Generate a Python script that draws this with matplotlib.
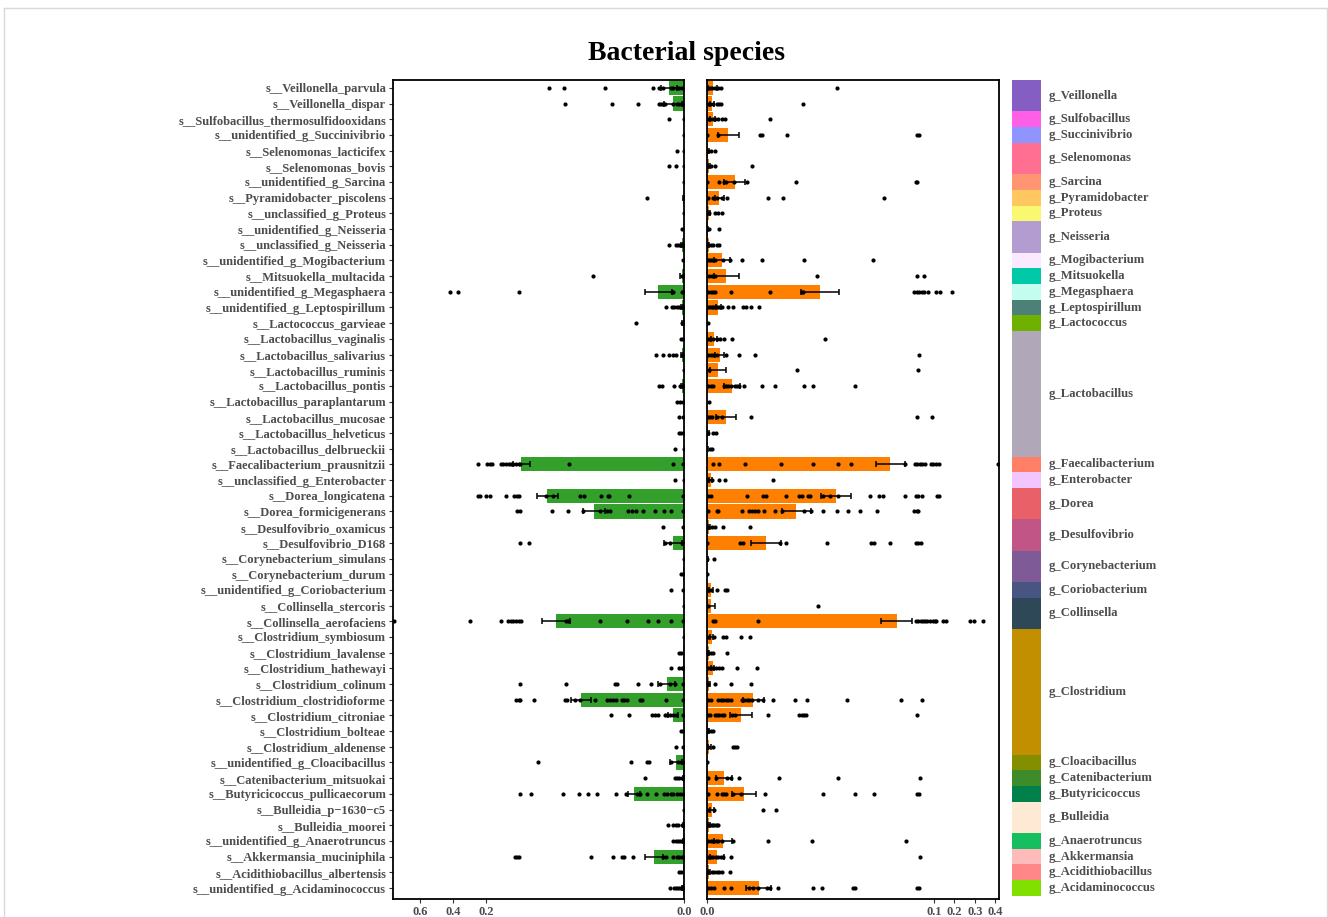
import numpy as np
import matplotlib
matplotlib.use("Agg")
import matplotlib.pyplot as plt
from matplotlib.lines import Line2D

plt.rcParams['font.family'] = ['Liberation Serif', 'DejaVu Serif']
plt.rcParams['font.weight'] = 'bold'

# ===================== DADOS =====================
especies = [
    "s__Veillonella_parvula", "s__Veillonella_dispar", "s__Sulfobacillus_thermosulfidooxidans",
    "s__unidentified_g_Succinivibrio", "s__Selenomonas_lacticifex", "s__Selenomonas_bovis",
    "s__unidentified_g_Sarcina", "s__Pyramidobacter_piscolens", "s__unclassified_g_Proteus",
    "s__unidentified_g_Neisseria", "s__unclassified_g_Neisseria", "s__unidentified_g_Mogibacterium",
    "s__Mitsuokella_multacida", "s__unidentified_g_Megasphaera", "s__unidentified_g_Leptospirillum",
    "s__Lactococcus_garvieae", "s__Lactobacillus_vaginalis", "s__Lactobacillus_salivarius",
    "s__Lactobacillus_ruminis", "s__Lactobacillus_pontis", "s__Lactobacillus_paraplantarum",
    "s__Lactobacillus_mucosae", "s__Lactobacillus_helveticus", "s__Lactobacillus_delbrueckii",
    "s__Faecalibacterium_prausnitzii", "s__unclassified_g_Enterobacter", "s__Dorea_longicatena",
    "s__Dorea_formicigenerans", "s__Desulfovibrio_oxamicus", "s__Desulfovibrio_D168",
    "s__Corynebacterium_simulans", "s__Corynebacterium_durum", "s__unidentified_g_Coriobacterium",
    "s__Collinsella_stercoris", "s__Collinsella_aerofaciens", "s__Clostridium_symbiosum",
    "s__Clostridium_lavalense", "s__Clostridium_hathewayi", "s__Clostridium_colinum",
    "s__Clostridium_clostridioforme", "s__Clostridium_citroniae", "s__Clostridium_bolteae",
    "s__Clostridium_aldenense", "s__unidentified_g_Cloacibacillus", "s__Catenibacterium_mitsuokai",
    "s__Butyricicoccus_pullicaecorum", "s__Bulleidia_p\u22121630\u2212c5", "s__Bulleidia_moorei",
    "s__unidentified_g_Anaerotruncus", "s__Akkermansia_muciniphila", "s__Acidithiobacillus_albertensis",
    "s__unidentified_g_Acidaminococcus",
]

generos = ["g_Veillonella", "g_Sulfobacillus", "g_Succinivibrio", "g_Selenomonas", "g_Sarcina",
           "g_Pyramidobacter", "g_Proteus", "g_Neisseria", "g_Mogibacterium", "g_Mitsuokella",
           "g_Megasphaera", "g_Leptospirillum", "g_Lactococcus", "g_Lactobacillus", "g_Faecalibacterium",
           "g_Enterobacter", "g_Dorea", "g_Desulfovibrio", "g_Corynebacterium", "g_Coriobacterium",
           "g_Collinsella", "g_Clostridium", "g_Cloacibacillus", "g_Catenibacterium", "g_Butyricicoccus",
           "g_Bulleidia", "g_Anaerotruncus", "g_Akkermansia", "g_Acidithiobacillus", "g_Acidaminococcus"]
n_especies_genero = [2, 1, 1, 2, 1, 1, 1, 2, 1, 1, 1, 1, 1, 8, 1, 1, 2, 2, 2, 1, 2, 8, 1, 1, 1, 2, 1, 1, 1, 1]
cores_genero = ["#845EC2", "#FF5EE6", "#8F94FF", "#FF6F91", "#FF9671", "#FFC75F", "#F9F871", "#B39CD0",
                "#FBEAFF", "#00C9A7", "#C4FCEF", "#4D8076", "#6FB100", "#B0A8B9", "#FF8066", "#F3C5FF",
                "#EA6069", "#C15585", "#7E5A96", "#485481", "#2F4858", "#C18F00", "#848F00", "#3E8B2A",
                "#00804A", "#FEE9D4", "#16BE5F", "#FFBBBB", "#FF8787", "#82E000"]

media_esq = [0.0155, 0.011, 0.0005, 0.0002, 0.0003, 0.0005, 0.0002, 0.0008, 0.0002, 0.0005,
             0.002, 0.0005, 0.0022, 0.026, 0.002, 0.001, 0.0005, 0.002, 0.0002, 0.0018,
             0.0005, 0.0005, 0.0005, 0.0005, 0.1643, 0.0004, 0.138, 0.0906, 0.0006, 0.011,
             0.0002, 0.0008, 0.0005, 0.0002, 0.1293, 0.0002, 0.0008, 0.0008, 0.0175, 0.1044,
             0.011, 0.0005, 0.0004, 0.0084, 0.001, 0.0505, 0.0002, 0.001, 0.0008, 0.0303,
             0.0006, 0.0013]
erro_esq = [0.008, 0.009, 0, 0, 0, 0, 0, 0.0005, 0, 0,
            0.001, 0, 0.002, 0.0135, 0.001, 0.0015, 0, 0.001, 0, 0.001,
            0, 0, 0, 0, 0.009, 0, 0.0105, 0.011, 0, 0.009,
            0, 0, 0, 0, 0.014, 0, 0, 0, 0.0085, 0.01,
            0.005, 0, 0, 0.006, 0.0005, 0.0065, 0, 0.0005, 0.0005, 0.0095,
            0, 0.0005]
pontos_esq = [
    [0.1364, 0.1212, 0.0795, 0.031, 0.0256, 0.0215, 0.0135, 0.0108, 0.0074, 0.0047, 0.002],
    [0.1199, 0.0727, 0.0461, 0.0249, 0.0229, 0.0209, 0.0189, 0.0108, 0.0074, 0.0047, 0.0024],
    [0.0152, 0.0003],
    [0.0003],
    [0.0067, 0.0003],
    [0.0152, 0.0077, 0.0003],
    [0.0003],
    [0.037, 0.0003],
    [0.0003],
    [0.002],
    [0.0148, 0.0081, 0.0057, 0.004, 0.0024, 0.0007],
    [0.001],
    [0.0923, 0.0024, 0.0007],
    [0.4182, 0.3717, 0.1663, 0.0125, 0.0108, 0.0024, 0.0007],
    [0.0185, 0.0125, 0.0101, 0.0074, 0.0047, 0.0024, 0.0007],
    [0.0488, 0.002, 0.0007],
    [0.003, 0.0013],
    [0.0283, 0.0215, 0.0155, 0.0108, 0.0081, 0.0024],
    [0.0003],
    [0.0256, 0.0226, 0.0101, 0.004, 0.0007],
    [0.0067, 0.004, 0.0013],
    [0.0051, 0.0007],
    [0.0047, 0.003, 0.0003],
    [0.0091, 0.0003],
    [0.2505, 0.1987, 0.1966, 0.1943, 0.1852, 0.1825, 0.1798, 0.1774, 0.1751, 0.1724, 0.1697,
     0.1673, 0.1657, 0.1165, 0.0114, 0.0013],
    [0.0088, 0.0003],
    [0.2505, 0.2364, 0.202, 0.196, 0.1798, 0.1714, 0.169, 0.1663, 0.1397, 0.132, 0.1051, 0.101,
     0.0842, 0.0764, 0.0754, 0.0559, 0.0013],
    [0.1684, 0.1657, 0.1333, 0.1168, 0.1017, 0.0848, 0.0781, 0.0747, 0.0562, 0.0529, 0.0485,
     0.0418, 0.029, 0.0205, 0.0131, 0.0007],
    [0.0209, 0.0013],
    [0.166, 0.1569, 0.0192, 0.0141, 0.0024],
    [0.0003],
    [0.0034, 0.0013],
    [0.0131, 0.0013],
    [0.0003],
    [0.7616, 0.297, 0.1845, 0.1781, 0.1751, 0.1724, 0.1697, 0.167, 0.165, 0.1192, 0.1168, 0.0848,
     0.0576, 0.036, 0.0263, 0.0131, 0.0007],
    [0.0003],
    [0.0051, 0.003],
    [0.0135, 0.0047, 0.0024, 0.0007],
    [0.166, 0.1192, 0.0694, 0.0673, 0.0461, 0.0337, 0.0242, 0.0141, 0.0088, 0.0007],
    [0.1697, 0.1673, 0.1657, 0.1512, 0.1199, 0.1185, 0.1101, 0.1051, 0.0896, 0.0781, 0.0747,
     0.0721, 0.0687, 0.063, 0.0603, 0.0576, 0.0444, 0.0421, 0.0182, 0.0007],
    [0.0734, 0.0559, 0.032, 0.0293, 0.0266, 0.0189, 0.0168, 0.0141, 0.0108, 0.0081, 0.0013],
    [0.003, 0.0013],
    [0.0081, 0.0007],
    [0.1475, 0.0532, 0.0377, 0.0357, 0.0135, 0.0057, 0.0034, 0.0007],
    [0.0391, 0.0088, 0.0067, 0.0047, 0.002],
    [0.166, 0.1542, 0.1226, 0.1064, 0.0966, 0.0882, 0.0687, 0.0586, 0.0478, 0.0444, 0.0377,
     0.0283, 0.0202, 0.0168, 0.0135, 0.0108, 0.0074, 0.004, 0.0013],
    [0.0003],
    [0.0165, 0.0108, 0.0081, 0.0057, 0.002],
    [0.0108, 0.0081, 0.0057, 0.004, 0.002, 0.0007],
    [0.1707, 0.169, 0.167, 0.0936, 0.0721, 0.063, 0.0603, 0.0515, 0.0215, 0.0182, 0.0108,
     0.0074, 0.0051, 0.0024, 0.0007],
    [0.0054, 0.003],
    [0.0138, 0.0101, 0.0081, 0.0057, 0.004, 0.002, 0.0007],
]

media_dir = [0.0025, 0.0022, 0.0025, 0.0094, 0.0005, 0.001, 0.0123, 0.0054, 0.0008, 0.0003,
             0.0007, 0.0065, 0.0084, 0.0498, 0.005, 0.0002, 0.0031, 0.0057, 0.0047, 0.0112,
             0.0002, 0.0084, 0.0004, 0.0003, 0.0808, 0.0016, 0.0568, 0.0394, 0.001, 0.0258,
             0.0002, 0.0001, 0.0018, 0.0018, 0.0836, 0.002, 0.0007, 0.0025, 0.001, 0.0204,
             0.015, 0.0006, 0.001, 0.0001, 0.0075, 0.0164, 0.0022, 0.001, 0.0072, 0.0043,
             0.0009, 0.0228]
erro_dir = [0.002, 0.001, 0.001, 0.0047, 0.0003, 0.0005, 0.0046, 0.002, 0.0004, 0.0003,
            0.0004, 0.0035, 0.0055, 0.0084, 0.001, 0, 0.0015, 0.002, 0.0035, 0.0035,
            0, 0.0043, 0.0003, 0.0002, 0.0062, 0.0006, 0.0065, 0.0062, 0.0005, 0.0066,
            0.0002, 0, 0.0008, 0.0018, 0.0069, 0.0008, 0.0004, 0.0008, 0.0005, 0.0045,
            0.0048, 0.0003, 0.0006, 0, 0.0037, 0.0053, 0.001, 0.0005, 0.004, 0.003,
            0.0005, 0.0055]
pontos_dir = [
    [0.0006, 0.0013, 0.0021, 0.0035, 0.005, 0.006, 0.0571],
    [0.0006, 0.0013, 0.0025, 0.0043, 0.0054, 0.0062, 0.0424],
    [0.0006, 0.0013, 0.0025, 0.0035, 0.005, 0.0065, 0.0079, 0.0276],
    [0.0001, 0.005, 0.0233, 0.0242, 0.0351, 0.0927, 0.0932],
    [0.0006, 0.0016, 0.0037],
    [0.0006, 0.0016, 0.0037, 0.0197],
    [0.0001, 0.0054, 0.0075, 0.0082, 0.012, 0.0175, 0.0392, 0.0921, 0.0927],
    [0.0006, 0.0028, 0.0043, 0.0065, 0.0087, 0.0267, 0.0333, 0.078],
    [0.0007, 0.0035, 0.005, 0.0065],
    [0.001, 0.0054],
    [0.0006, 0.0016, 0.0028, 0.0043, 0.0054],
    [0.0006, 0.0013, 0.0021, 0.0035, 0.0072, 0.01, 0.0153, 0.0242, 0.0427, 0.073],
    [0.001, 0.0021, 0.0035, 0.0486, 0.0924, 0.0956],
    [0.0006, 0.0016, 0.0028, 0.0035, 0.0104, 0.0276, 0.0417, 0.0424, 0.0913, 0.0924, 0.0935,
     0.0946, 0.0956, 0.0975, 0.1098, 0.1294, 0.1897],
    [0.0006, 0.0013, 0.0021, 0.0028, 0.0035, 0.0043, 0.0054, 0.0066, 0.0094, 0.0113, 0.016,
     0.0172, 0.0192, 0.0228],
    [0.0006],
    [0.0006, 0.0013, 0.0028, 0.0043, 0.0057, 0.0075, 0.011, 0.0518],
    [0.0006, 0.0016, 0.0028, 0.0043, 0.0084, 0.0142, 0.0211, 0.0935],
    [0.0009, 0.0398, 0.093],
    [0.0006, 0.0016, 0.0028, 0.0075, 0.0084, 0.0094, 0.0104, 0.0123, 0.0134, 0.0142, 0.0164,
     0.0241, 0.0298, 0.0427, 0.0466, 0.0651],
    [0.0009],
    [0.0006, 0.0013, 0.0021, 0.0043, 0.0066, 0.0195, 0.0925, 0.0991],
    [0.0006, 0.0025, 0.004],
    [0.0013, 0.0022],
    [0.0025, 0.0054, 0.0167, 0.0325, 0.0467, 0.0576, 0.0634, 0.0871, 0.0916, 0.0927, 0.0938,
     0.0949, 0.096, 0.0985, 0.0997, 0.1098, 0.1228, 0.415],
    [0.0006, 0.0021, 0.0051, 0.0079, 0.0291],
    [0.0006, 0.0016, 0.0175, 0.0245, 0.0258, 0.035, 0.0407, 0.042, 0.0446, 0.0454, 0.051,
     0.0542, 0.0576, 0.0718, 0.0759, 0.0777, 0.0874, 0.0921, 0.0931, 0.0946, 0.113, 0.126],
    [0.0006, 0.0043, 0.005, 0.0153, 0.0187, 0.0197, 0.0211, 0.0226, 0.0251, 0.03, 0.0329,
     0.0427, 0.0458, 0.0512, 0.0571, 0.0623, 0.0674, 0.0747, 0.0912, 0.0924, 0.0931],
    [0.0006, 0.0021, 0.0035, 0.0069, 0.0188],
    [0.0001, 0.0145, 0.0157, 0.0322, 0.0348, 0.053, 0.0721, 0.0736, 0.0806, 0.0921, 0.0931, 0.0941],
    [0.0001, 0.0032],
    [0.0001],
    [0.0006, 0.0016, 0.0043, 0.0078, 0.0087],
    [0.0006, 0.049],
    [0.0025, 0.0035, 0.0226, 0.0921, 0.0931, 0.0941, 0.095, 0.096, 0.0971, 0.0982, 0.0994,
     0.1049, 0.1114, 0.1424, 0.1587, 0.2762, 0.2958, 0.3382],
    [0.0006, 0.0031, 0.0072, 0.0084, 0.015, 0.0188],
    [0.0006, 0.0016, 0.0028, 0.009],
    [0.0006, 0.0016, 0.0028, 0.004, 0.0051, 0.0065, 0.0134, 0.022],
    [0.0006, 0.0037, 0.0104, 0.0192],
    [0.0006, 0.0016, 0.005, 0.006, 0.0072, 0.0084, 0.0094, 0.0104, 0.0153, 0.0163, 0.0175,
     0.0187, 0.0197, 0.0226, 0.0248, 0.0291, 0.0388, 0.0442, 0.0615, 0.0855, 0.0946],
    [0.0006, 0.0013, 0.0035, 0.0046, 0.0054, 0.0065, 0.0075, 0.0109, 0.0123, 0.0269, 0.0407,
     0.0417, 0.0427, 0.0436, 0.0924],
    [0.0006, 0.0016, 0.0025],
    [0.0006, 0.0028, 0.0113, 0.0122, 0.0131],
    [0.0001],
    [0.0006, 0.004, 0.009, 0.0104, 0.014, 0.0317, 0.0579, 0.0938],
    [0.0006, 0.0043, 0.0065, 0.0075, 0.0084, 0.0113, 0.0148, 0.0256, 0.051, 0.0651, 0.0736,
     0.0924, 0.0935],
    [0.0006, 0.0031, 0.0245, 0.0302],
    [0.0006, 0.0013, 0.0021, 0.0028, 0.0035, 0.0043, 0.005],
    [0.0006, 0.0016, 0.0028, 0.004, 0.005, 0.0065, 0.0113, 0.0267, 0.0461, 0.0878],
    [0.0006, 0.0016, 0.0028, 0.004, 0.005, 0.006, 0.0072, 0.0106, 0.094],
    [0.0006, 0.0021, 0.0031, 0.0043, 0.0054, 0.0066, 0.0103],
    [0.0006, 0.0016, 0.0031, 0.0075, 0.0104, 0.0187, 0.0204, 0.0226, 0.0263, 0.0278, 0.0314,
     0.0466, 0.0507, 0.0642, 0.0652, 0.0924, 0.0935],
]

cor_esq = "#33A02C"
cor_dir = "#FF7F00"
cinza = "#4D4D4D"

# ===================== ESCALAS (eixo quebrado) =====================
def esq_ida(x):
    x = np.asarray(x, dtype=float)
    return np.where(x <= 0.2, x, 0.2 + (x - 0.2) / 6.0)

def esq_volta(y):
    y = np.asarray(y, dtype=float)
    return np.where(y <= 0.2, y, 0.2 + (y - 0.2) * 6.0)

def dir_ida(x):
    x = np.asarray(x, dtype=float)
    return np.where(x <= 0.1, x, 0.1 + (x - 0.1) * 0.09)

def dir_volta(y):
    y = np.asarray(y, dtype=float)
    return np.where(y <= 0.1, y, 0.1 + (y - 0.1) / 0.09)

# ===================== FIGURA =====================
W, H = 1328, 917
fig = plt.figure(figsize=(W / 100, H / 100), dpi=100)

def caixa(x0, x1, y0, y1):
    return [x0 / W, 1 - y1 / H, (x1 - x0) / W, (y1 - y0) / H]

ax1 = fig.add_axes(caixa(393, 684, 80, 899))
ax2 = fig.add_axes(caixa(707, 999, 80, 899))
ax3 = fig.add_axes(caixa(1012, 1041, 80, 899))

n = len(especies)
y = np.arange(n)

def desenha(ax, medias, erros, pontos, cor):
    ax.barh(y, medias, height=0.9, color=cor, edgecolor="none", zorder=1)
    for i in range(n):
        if erros[i] > 0:
            ax.errorbar(medias[i], y[i], xerr=erros[i], fmt="none", ecolor="black",
                        elinewidth=1.1, capsize=2.2, capthick=1.1, zorder=2)
        ax.scatter(pontos[i], [y[i]] * len(pontos[i]), s=9, color="black",
                   linewidths=0, zorder=3)

desenha(ax1, media_esq, erro_esq, pontos_esq, cor_esq)
desenha(ax2, media_dir, erro_dir, pontos_dir, cor_dir)

ax1.set_xscale("function", functions=(esq_ida, esq_volta))
ax1.set_xlim(0.765, 0)
ax1.set_xticks([0.6, 0.4, 0.2, 0.0])
ax1.set_xticklabels(["0.6", "0.4", "0.2", "0.0"])

ax2.set_xscale("function", functions=(dir_ida, dir_volta))
ax2.set_xlim(0, 0.418)
ax2.set_xticks([0.0, 0.1, 0.2, 0.3, 0.4])
ax2.set_xticklabels(["0.0", "0.1", "0.2", "0.3", "0.4"])

for ax in (ax1, ax2):
    ax.set_ylim(n - 0.3, -0.5)
    ax.tick_params(axis="x", direction="out", length=3, width=0.8, color="#333333",
                   labelsize=9, labelcolor=cinza, pad=2)
    for s in ax.spines.values():
        s.set_linewidth(1.3)
        s.set_color("black")

ax1.set_yticks(y)
ax1.set_yticklabels(especies)
ax1.tick_params(axis="y", direction="out", length=3, width=0.8, color="#333333",
                labelsize=9, labelcolor=cinza, pad=2)
ax2.set_yticks([])

# ===================== BARRA DE GÊNEROS =====================
inicio = 0
for g, k, c in zip(generos, n_especies_genero, cores_genero):
    ax3.bar(0.5, k, bottom=inicio - 0.5, width=1.0, color=c, edgecolor="none")
    ax3.text(1.25, inicio - 0.5 + k / 2.0, g, ha="left", va="center", fontsize=9.1,
             color=cinza, fontweight="bold", clip_on=False)
    inicio += k
ax3.set_xlim(0, 1)
ax3.set_ylim(n - 0.3, -0.5)
ax3.axis("off")

fig.text(686 / W, 1 - 53 / H, "Bacterial species", ha="center", va="center",
         fontsize=20, fontweight="bold", color="black")

# moldura clara
for xs, ys in [([4 / W, 1327 / W], [1 - 8 / H, 1 - 8 / H]),
               ([4 / W, 4 / W], [0, 1 - 8 / H]),
               ([1327 / W, 1327 / W], [0, 1 - 8 / H])]:
    fig.add_artist(Line2D(xs, ys, color="#D9D9D9", linewidth=1))

fig.savefig("out.png", dpi=100)
